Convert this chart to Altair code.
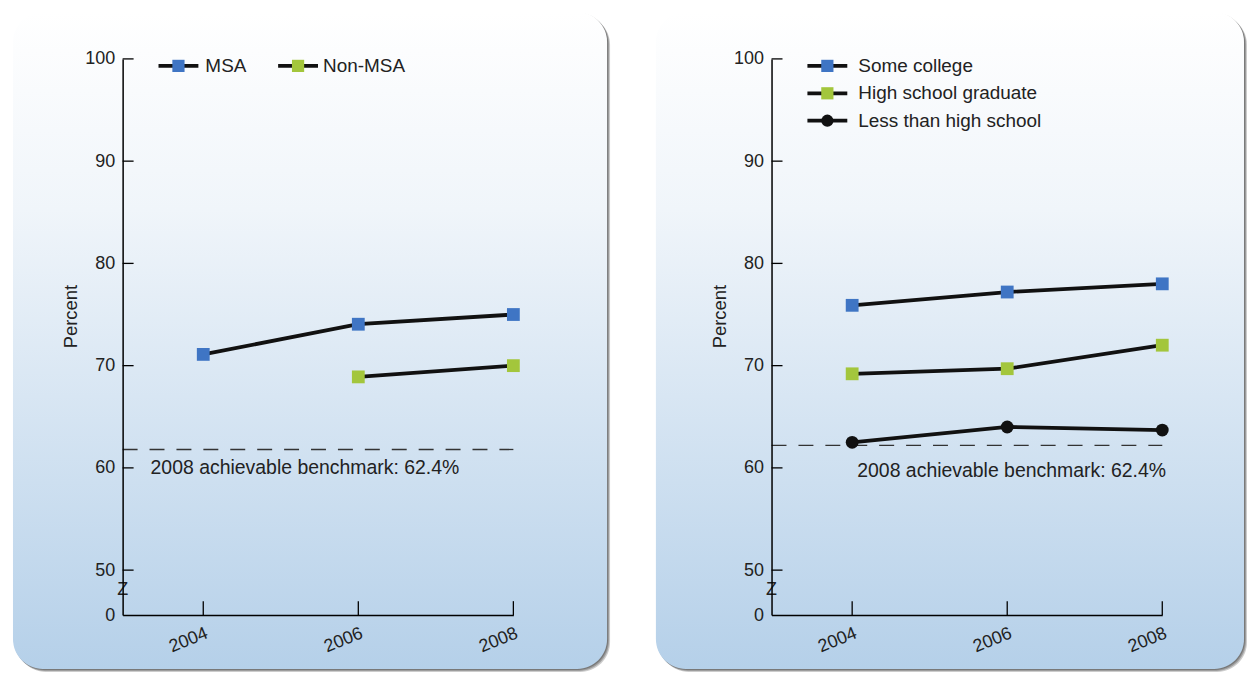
import altair as alt
import pandas as pd

# ---------------- data ----------------
years = [2004, 2006, 2008]
msa = [71.1, 74.05, 75.0]
non_msa = [None, 68.9, 70.0]
some_college = [75.9, 77.2, 78.0]
hs_grad = [69.2, 69.7, 72.0]
less_hs = [62.5, 64.0, 63.7]

left_series = ["MSA", "Non-MSA"]
right_series = ["Some college", "High school graduate", "Less than high school"]

y_tick_values = [50, 60, 70, 80, 90, 100]
bench_left = 61.8
bench_right = 62.2
bench_label = "2008 achievable benchmark: 62.4%"

# ---------------- style ----------------
FONT = "Liberation Sans"
BLUE = "#3f75c4"
GREEN = "#a3c63c"
BLACK = "#111111"
W, H = 392, 558
Y_MIN = 45.6  # position of the "0" label below the axis break

all_series = left_series + right_series
color_scale = alt.Scale(domain=all_series, range=[BLUE, GREEN, BLUE, GREEN, BLACK])
shape_scale = alt.Scale(domain=all_series, range=["square", "square", "square", "square", "circle"])

x_scale = alt.Scale(domain=[2002.96, 2008], nice=False, zero=False)
y_scale = alt.Scale(domain=[Y_MIN, 100], nice=False, zero=False)
x_axis = alt.Axis(values=years, format="d", ticks=False, grid=False, zindex=1,
                  labelAngle=-22, labelAlign="right", labelBaseline="top",
                  labelPadding=9, labelFontSize=18, labelFont=FONT,
                  labelColor="#222222", domainColor="black", domainWidth=1.5,
                  title=None)
y_axis = alt.Axis(values=[Y_MIN] + y_tick_values,
                  labelExpr="datum.value < 49 ? '0' : datum.label",
                  ticks=False, grid=False, zindex=1, labelFontSize=18, labelFont=FONT,
                  labelColor="#222222", labelPadding=8,
                  domainColor="black", domainWidth=1.5,
                  title="Percent", titleFont=FONT, titleFontSize=18.5,
                  titleFontWeight="normal", titleColor="#222222",
                  titlePadding=4, titleY=258)


def long_df(names, arrays):
    rows = []
    for n, arr in zip(names, arrays):
        for yr, v in zip(years, arr):
            if v is not None:
                rows.append({"series": n, "year": yr, "value": v})
    return pd.DataFrame(rows)


one = alt.Data(values=[{"k": 1}])


def background(x0, x1, y0, y1):
    layers = []
    for off, op in [(3, 0.25), (2, 0.3), (1, 0.35)]:
        layers.append(
            alt.Chart(one).mark_rect(cornerRadius=30, color="#333333", opacity=op).encode(
                x=alt.value(x0 + off), x2=alt.value(x1 + off),
                y=alt.value(y0 + off), y2=alt.value(y1 + off))
        )
    grad = alt.LinearGradient(
        gradient="linear",
        stops=[alt.GradientStop(offset=0, color="#ffffff"),
               alt.GradientStop(offset=0.3, color="#f0f5fa"),
               alt.GradientStop(offset=1, color="#b5d0e9")],
        x1=0, x2=0, y1=0, y2=1)
    layers.append(
        alt.Chart(one).mark_rect(cornerRadius=30, fill=grad).encode(
            x=alt.value(x0), x2=alt.value(x1), y=alt.value(y0), y2=alt.value(y1))
    )
    return layers


def panel(names, arrays, bench, rect, legend_horizontal, legend_text_dx, bench_text_xy):
    df = long_df(names, arrays)

    layers = background(*rect)

    # data lines (carry the axes)
    layers.append(
        alt.Chart(df).mark_line(color=BLACK, strokeWidth=3.8).encode(
            x=alt.X("year:Q", scale=x_scale, axis=x_axis),
            y=alt.Y("value:Q", scale=y_scale, axis=y_axis),
            detail="series:N")
    )

    # benchmark dashed line and label
    layers.append(
        alt.Chart(alt.Data(values=[{"b": bench}])).mark_rule(
            strokeDash=[15, 12], color="#333333", strokeWidth=1.3).encode(
            y=alt.Y("b:Q", scale=y_scale, axis=y_axis),
            x=alt.value(0), x2=alt.value(W))
    )
    layers.append(
        alt.Chart(alt.Data(values=[{"t": bench_label}])).mark_text(
            align="left", baseline="middle", fontSize=19.5, font=FONT, color="#222222").encode(
            x=alt.value(bench_text_xy[0]), y=alt.value(bench_text_xy[1]), text="t:N")
    )

    # inward ticks
    layers.append(
        alt.Chart(pd.DataFrame({"v": y_tick_values})).mark_rule(color="black", strokeWidth=1.3).encode(
            y=alt.Y("v:Q", scale=y_scale, axis=y_axis), x=alt.value(0), x2=alt.value(11))
    )
    layers.append(
        alt.Chart(pd.DataFrame({"yr": years})).mark_rule(color="black", strokeWidth=1.3).encode(
            x=alt.X("yr:Q", scale=x_scale, axis=x_axis), y=alt.value(H), y2=alt.value(H - 14))
    )

    # axis break symbol
    layers.append(
        alt.Chart(alt.Data(values=[{"z": "Z"}])).mark_text(
            fontSize=18, font=FONT, color="#222222", baseline="middle").encode(
            x=alt.value(0), y=alt.value(533), text="z:N")
    )

    # data markers
    layers.append(
        alt.Chart(df).mark_point(filled=True, size=165, opacity=1).encode(
            x=alt.X("year:Q", scale=x_scale, axis=x_axis),
            y=alt.Y("value:Q", scale=y_scale, axis=y_axis),
            color=alt.Color("series:N", scale=color_scale, legend=None),
            shape=alt.Shape("series:N", scale=shape_scale, legend=None))
    )

    # manual legend
    leg = pd.DataFrame({"series": names, "idx": list(range(len(names)))})
    if legend_horizontal:
        calc = dict(lx0="36 + 120*datum.idx", lx1="76 + 120*datum.idx",
                    lxs="56 + 120*datum.idx", ltx=f"{legend_text_dx} + 118*datum.idx",
                    ly="7")
    else:
        calc = dict(lx0="36", lx1="76", lxs="56", ltx=str(legend_text_dx),
                    ly="7 + 27.5*datum.idx")
    base = alt.Chart(leg).transform_calculate(**calc)
    layers.append(
        base.mark_rule(color=BLACK, strokeWidth=3.8).encode(
            x=alt.X("lx0:Q", scale=None), x2="lx1:Q", y=alt.Y("ly:Q", scale=None))
    )
    layers.append(
        base.mark_point(filled=True, size=150, opacity=1).encode(
            x=alt.X("lxs:Q", scale=None), y=alt.Y("ly:Q", scale=None),
            color=alt.Color("series:N", scale=color_scale, legend=None),
            shape=alt.Shape("series:N", scale=shape_scale, legend=None))
    )
    layers.append(
        base.mark_text(align="left", baseline="middle", fontSize=19, font=FONT, color="#222222").encode(
            x=alt.X("ltx:Q", scale=None), y=alt.Y("ly:Q", scale=None), text="series:N")
    )

    return alt.layer(*layers).properties(width=W, height=H)


left = panel(left_series, [msa, non_msa], bench_left,
             rect=(-110, 486, -47, 612), legend_horizontal=True, legend_text_dx=83,
             bench_text_xy=(28, 410))
right = panel(right_series, [some_college, hs_grad, less_hs], bench_right,
              rect=(-116, 474, -47, 612), legend_horizontal=False, legend_text_dx=87,
              bench_text_xy=(86, 413))

chart = alt.hconcat(left, right, spacing=44).properties(
    padding={"left": 4, "top": 2, "right": 0, "bottom": 0}
).configure_view(stroke=None).configure(background="white")

chart.save("out.html", embed_options={"renderer": "svg", "actions": False})
